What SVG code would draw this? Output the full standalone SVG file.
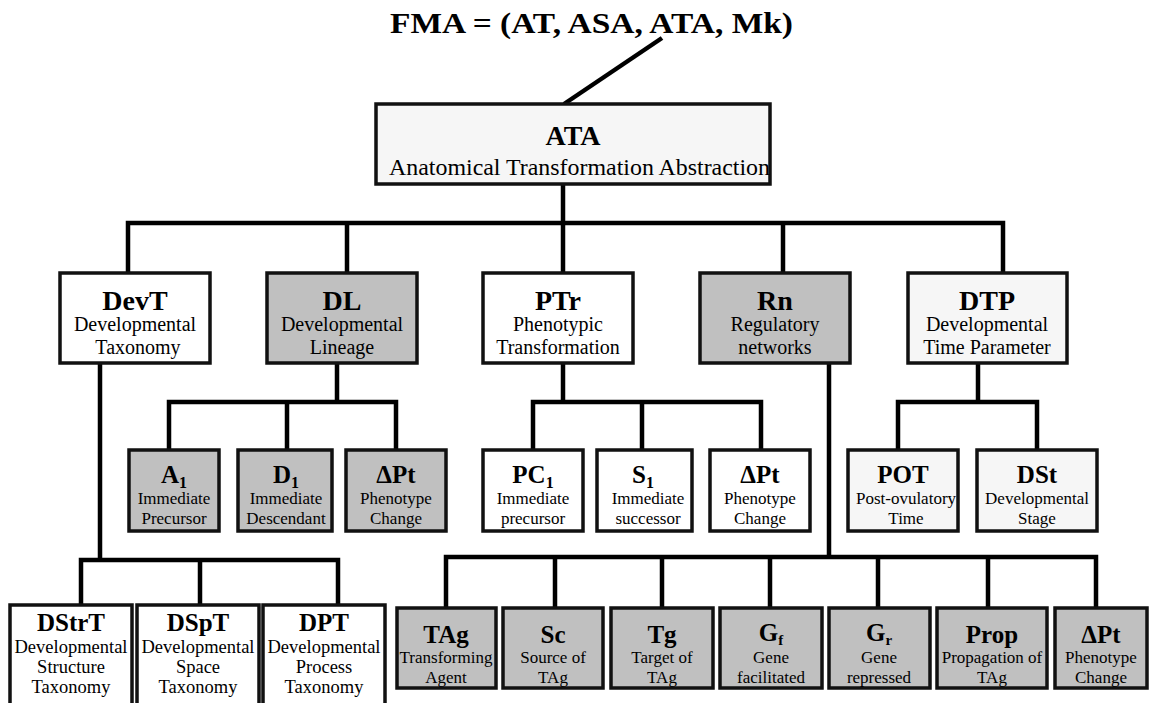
<svg xmlns="http://www.w3.org/2000/svg" width="1149" height="703" viewBox="0 0 1149 703" font-family="Liberation Serif, serif">
<style>
.box{stroke:#111;stroke-width:3.5}
.w{fill:#fff}
.g{fill:#c0c0c0}
.l{fill:#f6f6f6}
.c{stroke:#000;stroke-width:4.5;fill:none}
text{font-family:'Liberation Serif',serif;fill:#000;text-anchor:middle}
.t2{font-size:28px;font-weight:bold}
.t3{font-size:25px;font-weight:bold}
.s2{font-size:20px}
.s3{font-size:17px}
.s4{font-size:18.5px}
.sub{font-size:16px;font-weight:bold}
</style>
<rect width="1149" height="703" fill="#fff"/>
<text x="390" y="33" style="font-size:30px;font-weight:bold;text-anchor:start" textLength="403" lengthAdjust="spacingAndGlyphs">FMA = (AT, ASA, ATA, Mk)</text>
<g id="connectors">
<line class="c" x1="662" y1="38" x2="564" y2="104"/>
<path class="c" d="M563 184V223M128 273V223H1003V273M347 223V273M563 223V273M783 223V273"/>
<path class="c" d="M100 363V560M81 605V560H338V605M200 560V605"/>
<path class="c" d="M337 363V402M169 450V402H396V450M287 402V450"/>
<path class="c" d="M563 363V402M533 450V402H761V450M642 402V450"/>
<path class="c" d="M978 363V402M898 450V402H1037V450"/>
<path class="c" d="M829 363V557M446 608V557H1096V608M555 557V608M662 557V608M770 557V608M878 557V608M988 557V608"/>
</g>
<g id="ATA">
<rect class="box l" x="376" y="104" width="394" height="80"/>
<text class="t2" x="573" y="145">ATA</text>
<text x="389" y="175" style="font-size:23px;text-anchor:start" textLength="381" lengthAdjust="spacingAndGlyphs">Anatomical Transformation Abstraction</text>
</g>
<g id="DevT">
<rect class="box w" x="60" y="273" width="150" height="90"/>
<text class="t2" x="135" y="310">DevT</text>
<text class="s2" x="135" y="331">Developmental</text>
<text class="s2" x="138" y="354">Taxonomy</text>
</g>
<g id="DL">
<rect class="box g" x="267" y="273" width="150" height="90"/>
<text class="t2" x="342" y="310">DL</text>
<text class="s2" x="342" y="331">Developmental</text>
<text class="s2" x="342" y="354">Lineage</text>
</g>
<g id="PTr">
<rect class="box w" x="483" y="273" width="150" height="90"/>
<text class="t2" x="558" y="310">PTr</text>
<text class="s2" x="558" y="331">Phenotypic</text>
<text class="s2" x="558" y="354">Transformation</text>
</g>
<g id="Rn">
<rect class="box g" x="700" y="273" width="150" height="90"/>
<text class="t2" x="775" y="310">Rn</text>
<text class="s2" x="775" y="331">Regulatory</text>
<text class="s2" x="775" y="354">networks</text>
</g>
<g id="DTP">
<rect class="box l" x="908" y="273" width="159" height="90"/>
<text class="t2" x="987" y="310">DTP</text>
<text class="s2" x="987" y="331">Developmental</text>
<text class="s2" x="987" y="354">Time Parameter</text>
</g>
<g id="A1">
<rect class="box g" x="129" y="450" width="90" height="81"/>
<text class="t3" x="174" y="483">A<tspan class="sub" dy="5">1</tspan></text>
<text class="s3" x="174" y="504">Immediate</text>
<text class="s3" x="174" y="524">Precursor</text>
</g>
<g id="D1">
<rect class="box g" x="238" y="450" width="94" height="81"/>
<text class="t3" x="286" y="483">D<tspan class="sub" dy="5">1</tspan></text>
<text class="s3" x="286" y="504">Immediate</text>
<text class="s3" x="286" y="524">Descendant</text>
</g>
<g id="DPt1">
<rect class="box g" x="346" y="450" width="100" height="81"/>
<text class="t3" x="396" y="483">ΔPt</text>
<text class="s3" x="396" y="504">Phenotype</text>
<text class="s3" x="396" y="524">Change</text>
</g>
<g id="PC1">
<rect class="box w" x="483" y="450" width="100" height="81"/>
<text class="t3" x="533" y="483">PC<tspan class="sub" dy="5">1</tspan></text>
<text class="s3" x="533" y="504">Immediate</text>
<text class="s3" x="533" y="524">precursor</text>
</g>
<g id="S1">
<rect class="box w" x="597" y="450" width="95" height="81"/>
<text class="t3" x="643" y="483">S<tspan class="sub" dy="5">1</tspan></text>
<text class="s3" x="648" y="504">Immediate</text>
<text class="s3" x="648" y="524">successor</text>
</g>
<g id="DPt2">
<rect class="box w" x="710" y="450" width="100" height="81"/>
<text class="t3" x="760" y="483">ΔPt</text>
<text class="s3" x="760" y="504">Phenotype</text>
<text class="s3" x="760" y="524">Change</text>
</g>
<g id="POT">
<rect class="box l" x="848" y="450" width="110" height="81"/>
<text class="t3" x="903" y="483">POT</text>
<text class="s3" x="906" y="504">Post-ovulatory</text>
<text class="s3" x="906" y="524">Time</text>
</g>
<g id="DSt">
<rect class="box l" x="977" y="450" width="120" height="81"/>
<text class="t3" x="1037" y="483">DSt</text>
<text class="s3" x="1037" y="504">Developmental</text>
<text class="s3" x="1037" y="524">Stage</text>
</g>
<g id="DStrT">
<rect class="box w" x="10" y="605" width="122" height="110"/>
<text class="t3" x="71" y="631">DStrT</text>
<text class="s4" x="71" y="653">Developmental</text>
<text class="s4" x="71" y="673">Structure</text>
<text class="s4" x="71" y="693">Taxonomy</text>
</g>
<g id="DSpT">
<rect class="box w" x="137" y="605" width="122" height="110"/>
<text class="t3" x="198" y="631">DSpT</text>
<text class="s4" x="198" y="653">Developmental</text>
<text class="s4" x="198" y="673">Space</text>
<text class="s4" x="198" y="693">Taxonomy</text>
</g>
<g id="DPT">
<rect class="box w" x="263" y="605" width="122" height="110"/>
<text class="t3" x="324" y="631">DPT</text>
<text class="s4" x="324" y="653">Developmental</text>
<text class="s4" x="324" y="673">Process</text>
<text class="s4" x="324" y="693">Taxonomy</text>
</g>
<g id="TAg">
<rect class="box g" x="397" y="608" width="99" height="80"/>
<text class="t3" x="446" y="643">TAg</text>
<text class="s3" x="446" y="663">Transforming</text>
<text class="s3" x="446" y="683">Agent</text>
</g>
<g id="Sc">
<rect class="box g" x="503" y="608" width="100" height="80"/>
<text class="t3" x="553" y="643">Sc</text>
<text class="s3" x="553" y="663">Source of</text>
<text class="s3" x="553" y="683">TAg</text>
</g>
<g id="Tg">
<rect class="box g" x="611" y="608" width="102" height="80"/>
<text class="t3" x="662" y="643">Tg</text>
<text class="s3" x="662" y="663">Target of</text>
<text class="s3" x="662" y="683">TAg</text>
</g>
<g id="Gf">
<rect class="box g" x="720" y="608" width="102" height="80"/>
<text class="t3" x="771" y="641">G<tspan style="font-size:15px" dy="4">f</tspan></text>
<text class="s3" x="771" y="663">Gene</text>
<text class="s3" x="771" y="683">facilitated</text>
</g>
<g id="Gr">
<rect class="box g" x="829" y="608" width="101" height="80"/>
<text class="t3" x="879" y="641">G<tspan style="font-size:15px" dy="4">r</tspan></text>
<text class="s3" x="879" y="663">Gene</text>
<text class="s3" x="879" y="683">repressed</text>
</g>
<g id="Prop">
<rect class="box g" x="937" y="608" width="110" height="80"/>
<text class="t3" x="992" y="643">Prop</text>
<text class="s3" x="992" y="663">Propagation of</text>
<text class="s3" x="992" y="683">TAg</text>
</g>
<g id="DPt3">
<rect class="box g" x="1055" y="608" width="92" height="80"/>
<text class="t3" x="1101" y="643">ΔPt</text>
<text class="s3" x="1101" y="663">Phenotype</text>
<text class="s3" x="1101" y="683">Change</text>
</g>
</svg>
